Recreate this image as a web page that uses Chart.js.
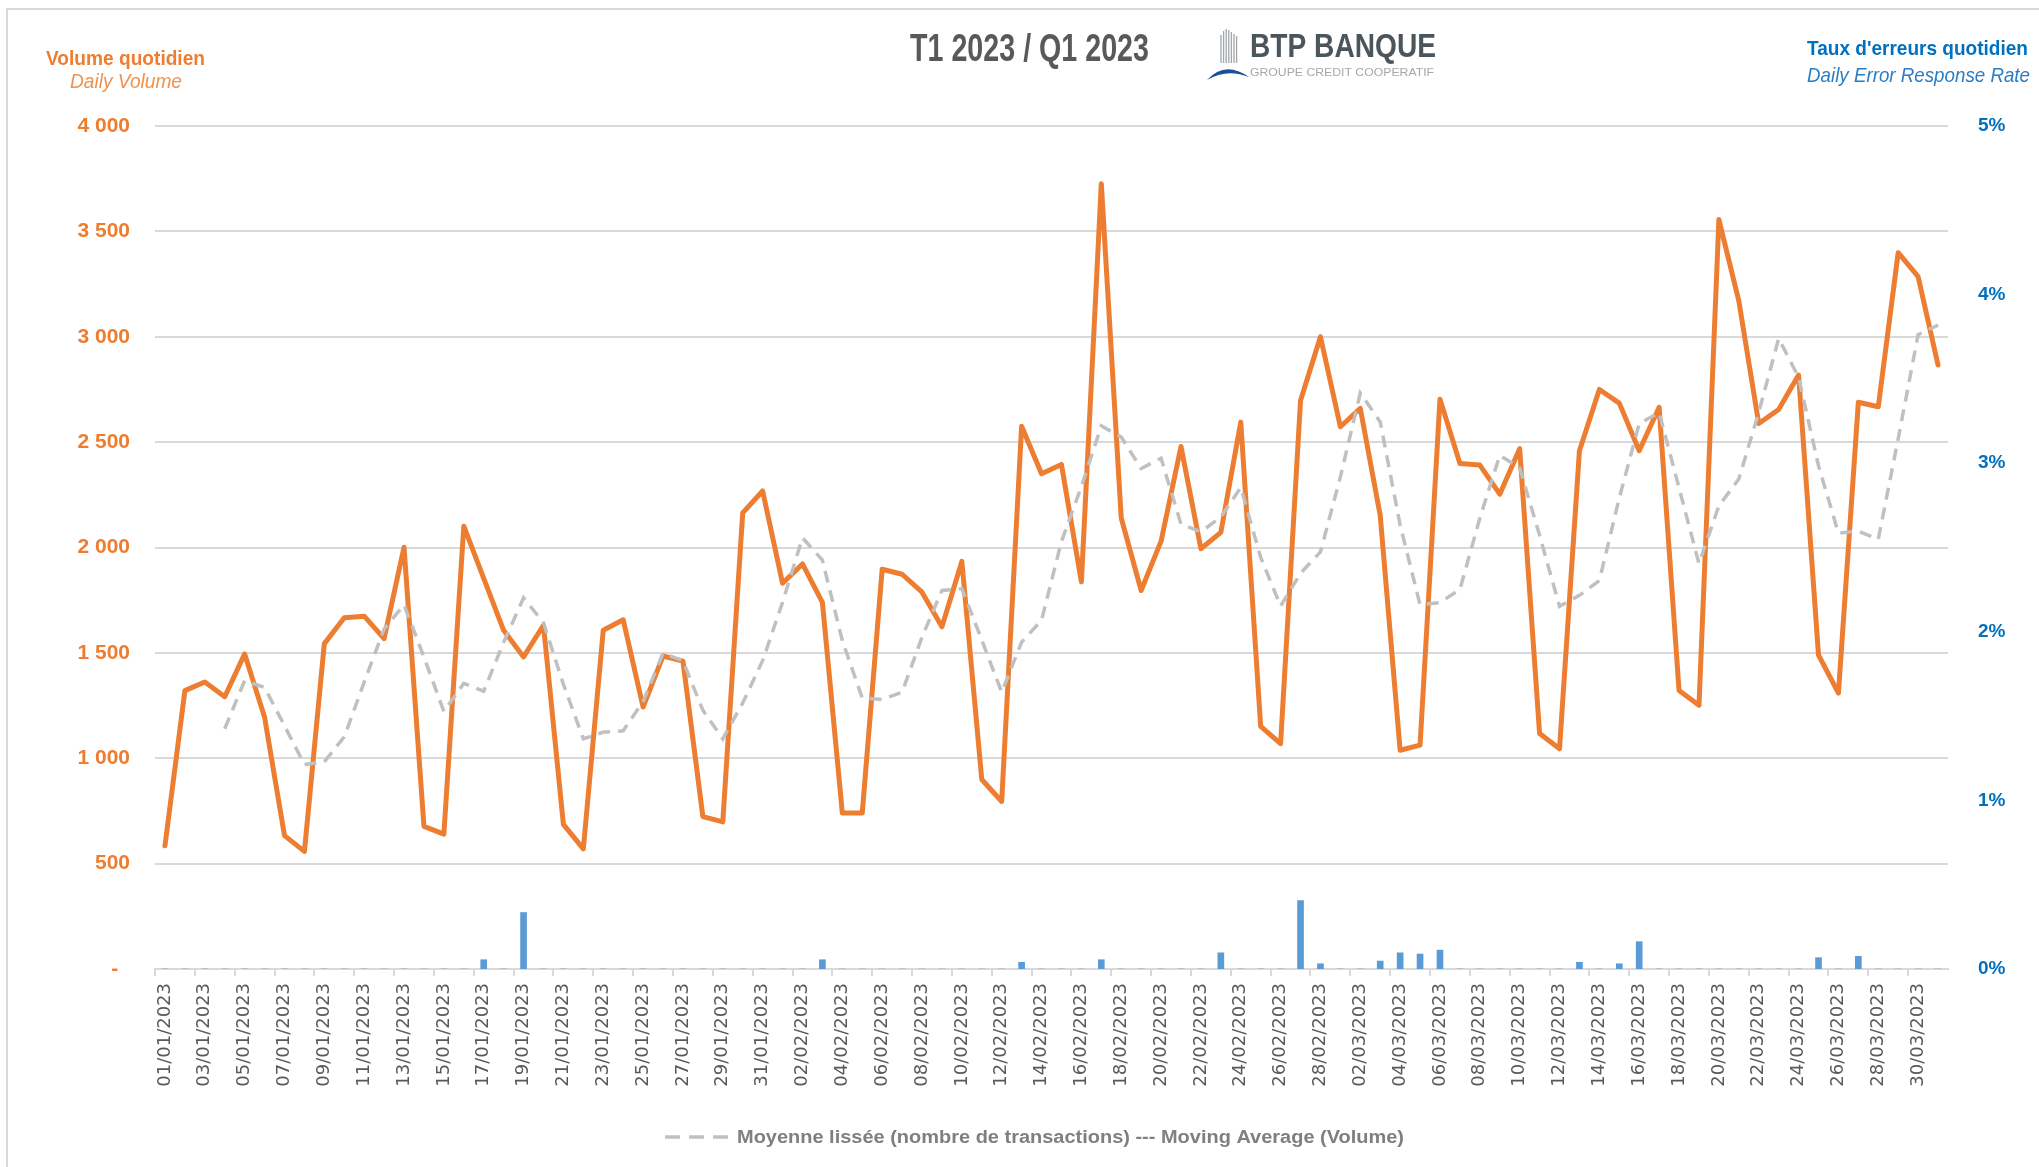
<!DOCTYPE html>
<html>
<head>
<meta charset="utf-8">
<script src="https://cdn.jsdelivr.net/npm/chart.js@4.4.1/dist/chart.umd.min.js"></script>
<style>
  html, body { margin: 0; padding: 0; background: #fff; overflow: hidden; }
</style>
</head>
<body>
<canvas id="chart" width="2039" height="1167"></canvas>
<script>
// dates (01/01/2023 -> 31/03/2023)
const days = [
  '01/01/2023','02/01/2023','03/01/2023','04/01/2023','05/01/2023','06/01/2023','07/01/2023','08/01/2023','09/01/2023','10/01/2023',
  '11/01/2023','12/01/2023','13/01/2023','14/01/2023','15/01/2023','16/01/2023','17/01/2023','18/01/2023','19/01/2023','20/01/2023',
  '21/01/2023','22/01/2023','23/01/2023','24/01/2023','25/01/2023','26/01/2023','27/01/2023','28/01/2023','29/01/2023','30/01/2023',
  '31/01/2023','01/02/2023','02/02/2023','03/02/2023','04/02/2023','05/02/2023','06/02/2023','07/02/2023','08/02/2023','09/02/2023',
  '10/02/2023','11/02/2023','12/02/2023','13/02/2023','14/02/2023','15/02/2023','16/02/2023','17/02/2023','18/02/2023','19/02/2023',
  '20/02/2023','21/02/2023','22/02/2023','23/02/2023','24/02/2023','25/02/2023','26/02/2023','27/02/2023','28/02/2023','01/03/2023',
  '02/03/2023','03/03/2023','04/03/2023','05/03/2023','06/03/2023','07/03/2023','08/03/2023','09/03/2023','10/03/2023','11/03/2023',
  '12/03/2023','13/03/2023','14/03/2023','15/03/2023','16/03/2023','17/03/2023','18/03/2023','19/03/2023','20/03/2023','21/03/2023',
  '22/03/2023','23/03/2023','24/03/2023','25/03/2023','26/03/2023','27/03/2023','28/03/2023','29/03/2023','30/03/2023','31/03/2023'
];

// daily volume
const volume = [
  585, 1321, 1362, 1292, 1495, 1195, 633, 558, 1544, 1667,
  1674, 1568, 2001, 677, 640, 2101, 1853, 1607, 1481, 1631,
  686, 570, 1607, 1657, 1243, 1485, 1461, 723, 698, 2164,
  2268, 1830, 1922, 1740, 740, 740, 1897, 1873, 1788, 1624,
  1934, 899, 795, 2575, 2350, 2394, 1837, 3726, 2140, 1796,
  2030, 2479, 1994, 2072, 2595, 1151, 1069, 2697, 3000, 2573,
  2660, 2152, 1038, 1062, 2704, 2399, 2391, 2253, 2469, 1117,
  1045, 2459, 2750, 2685, 2459, 2665, 1321, 1251, 3556, 3170,
  2588, 2655, 2818, 1490, 1309, 2689, 2668, 3399, 3285, 2866
];

// moving average (grey dashed)
const movingAvg = [
  null, null, null, 1140, 1368, 1336, 1154, 970, 983, 1101,
  1361, 1613, 1728, 1480, 1222, 1355, 1318, 1550, 1761, 1643,
  1351, 1092, 1124, 1130, 1269, 1498, 1462, 1228, 1092, 1262,
  1463, 1740, 2046, 1940, 1558, 1286, 1279, 1313, 1575, 1796,
  1805, 1561, 1313, 1551, 1655, 2029, 2289, 2577, 2524, 2375,
  2423, 2111, 2075, 2144, 2285, 1953, 1722, 1878, 1979, 2335,
  2733, 2596, 2106, 1728, 1739, 1801, 2139, 2437, 2378, 2058,
  1721, 1773, 1843, 2235, 2588, 2640, 2283, 1924, 2198, 2325,
  2641, 2992, 2808, 2388, 2068, 2077, 2039, 2516, 3010, 3055
];

// daily error rate (%)
const errorRate = [
  0, 0, 0, 0, 0, 0, 0, 0, 0, 0,
  0, 0, 0, 0, 0, 0, 0.055, 0, 0.335, 0,
  0, 0, 0, 0, 0, 0, 0, 0, 0, 0,
  0, 0, 0, 0.055, 0, 0, 0, 0, 0, 0,
  0, 0, 0, 0.04, 0, 0, 0, 0.055, 0, 0,
  0, 0, 0, 0.096, 0, 0, 0, 0.406, 0.031, 0,
  0, 0.047, 0.096, 0.089, 0.112, 0, 0, 0, 0, 0,
  0, 0.04, 0, 0.031, 0.162, 0, 0, 0, 0, 0,
  0, 0, 0, 0.067, 0, 0.075, 0, 0, 0, 0
];

const leftTicks = [0, 500, 1000, 1500, 2000, 2500, 3000, 3500, 4000];
const rightTicks = [0, 1, 2, 3, 4, 5];
const legendText = 'Moyenne lissée (nombre de transactions) --- Moving Average (Volume)';

const ORANGE = '#ED7D31';
const BLUE = '#0070C0';
const GRID = '#d9d9d9';
const DASH = '#c0c0c0';
const NARROW = '"Liberation Sans Narrow", "Liberation Sans", Arial, sans-serif';

Chart.defaults.font.family = '"Liberation Sans", Arial, sans-serif';

function fitText(ctx, text, x, y, w, font, color) {
  ctx.save();
  ctx.font = font;
  ctx.fillStyle = color;
  ctx.textAlign = 'left';
  ctx.textBaseline = 'alphabetic';
  const m = ctx.measureText(text).width;
  ctx.translate(x, y);
  ctx.scale(w / m, 1);
  ctx.fillText(text, 0, 0);
  ctx.restore();
}

const decor = {
  id: 'decor',
  afterDraw(chart) {
    const ctx = chart.ctx;
    // frame
    ctx.save();
    ctx.strokeStyle = GRID;
    ctx.lineWidth = 2;
    ctx.beginPath();
    ctx.moveTo(7, 1167);
    ctx.lineTo(7, 9);
    ctx.lineTo(2039, 9);
    ctx.stroke();
    ctx.restore();

    fitText(ctx, 'T1 2023 / Q1 2023', 910, 61, 239, 'bold 38px ' + NARROW, '#595959');

    // logo
    ctx.save();
    ctx.strokeStyle = '#a0a5a9';
    ctx.lineWidth = 1.3;
    const tops = [35, 31, 29, 30, 32, 34, 36];
    tops.forEach((t, i) => {
      const x = 1221 + i * 2.6;
      ctx.beginPath();
      ctx.moveTo(x, t);
      ctx.lineTo(x, 63);
      ctx.stroke();
    });
    ctx.fillStyle = '#1d4f9a';
    ctx.beginPath();
    ctx.moveTo(1207, 80);
    ctx.quadraticCurveTo(1225, 60, 1249, 77);
    ctx.quadraticCurveTo(1227, 68, 1207, 80);
    ctx.fill();
    ctx.restore();
    fitText(ctx, 'BTP BANQUE', 1250, 57, 186, 'bold 33px ' + NARROW, '#4b555c');
    fitText(ctx, 'GROUPE CREDIT COOPERATIF', 1250, 76, 184, '11px ' + NARROW, '#a3a8ac');

    // axis titles
    fitText(ctx, 'Volume quotidien', 46, 65, 159, 'bold 21px ' + NARROW, ORANGE);
    fitText(ctx, 'Daily Volume', 70, 88, 112, 'italic 21px ' + NARROW, '#F0914C');
    fitText(ctx, 'Taux d\'erreurs quotidien', 1807, 55, 221, 'bold 21px ' + NARROW, BLUE);
    fitText(ctx, 'Daily Error Response Rate', 1807, 82, 223, 'italic 21px ' + NARROW, '#2a7dc4');

    // legend (moving average only)
    ctx.save();
    ctx.strokeStyle = DASH;
    ctx.lineWidth = 3.5;
    [665, 689, 713].forEach(x => {
      ctx.beginPath();
      ctx.moveTo(x, 1137);
      ctx.lineTo(x + 15, 1137);
      ctx.stroke();
    });
    ctx.restore();
    fitText(ctx, legendText, 737, 1143, 667, 'bold 18px "Liberation Sans", Arial, sans-serif', '#7f7f7f');
  }
};

new Chart(document.getElementById('chart'), {
  type: 'line',
  data: {
    labels: days,
    datasets: [
      {
        label: 'Volume quotidien',
        data: volume,
        yAxisID: 'y',
        borderColor: ORANGE,
        borderWidth: 5,
        pointRadius: 0,
        tension: 0,
        borderJoinStyle: 'round',
        borderCapStyle: 'round',
        order: 2
      },
      {
        label: legendText,
        data: movingAvg,
        yAxisID: 'y',
        borderColor: DASH,
        backgroundColor: 'rgba(0,0,0,0)',
        borderWidth: 3.5,
        borderDash: [12, 8],
        pointRadius: 0,
        tension: 0,
        order: 1
      },
      {
        type: 'bar',
        label: 'Taux d\'erreurs',
        data: errorRate,
        yAxisID: 'y2',
        backgroundColor: '#5B9BD5',
        barThickness: 6,
        order: 3
      }
    ]
  },
  options: {
    responsive: false,
    animation: false,
    layout: { padding: { top: 126, bottom: 49, left: 0, right: 0 } },
    plugins: {
      tooltip: { enabled: false },
      legend: { display: false }
    },
    scales: {
      x: {
        offset: true,
        grid: {
          offset: true,
          drawOnChartArea: false,
          drawTicks: true,
          tickLength: 7,
          lineWidth: 2,
          color: c => (c.index % 2 === 0 ? GRID : 'rgba(0,0,0,0)')
        },
        border: { display: true, color: GRID, width: 2 },
        ticks: {
          autoSkip: false,
          maxRotation: 90,
          minRotation: 90,
          padding: 7,
          color: '#595959',
          font: { family: '"DejaVu Sans", sans-serif', size: 18 },
          callback: (v, i) => (i % 2 === 0 ? days[i] : '')
        },
        afterFit: s => { s.height = 149; }
      },
      y: {
        position: 'left',
        min: leftTicks[0],
        max: leftTicks[leftTicks.length - 1],
        afterBuildTicks: s => { s.ticks = leftTicks.map(v => ({ value: v })); },
        grid: { color: GRID, lineWidth: 2, drawTicks: false },
        border: { display: false },
        ticks: {
          padding: 25,
          color: ORANGE,
          font: { size: 21, weight: 'bold' },
          callback: v => (v === 0 ? '-  ' : String(v).replace(/\B(?=(\d{3})+(?!\d))/g, ' '))
        },
        afterFit: s => { s.width = 155; }
      },
      y2: {
        position: 'right',
        min: rightTicks[0],
        max: rightTicks[rightTicks.length - 1],
        afterBuildTicks: s => { s.ticks = rightTicks.map(v => ({ value: v })); },
        grid: { display: false },
        border: { display: false },
        ticks: {
          padding: 22,
          color: BLUE,
          font: { size: 19, weight: 'bold' },
          callback: v => v + '%'
        },
        afterFit: s => { s.width = 91; }
      }
    }
  },
  plugins: [decor]
});
</script>
</body>
</html>
